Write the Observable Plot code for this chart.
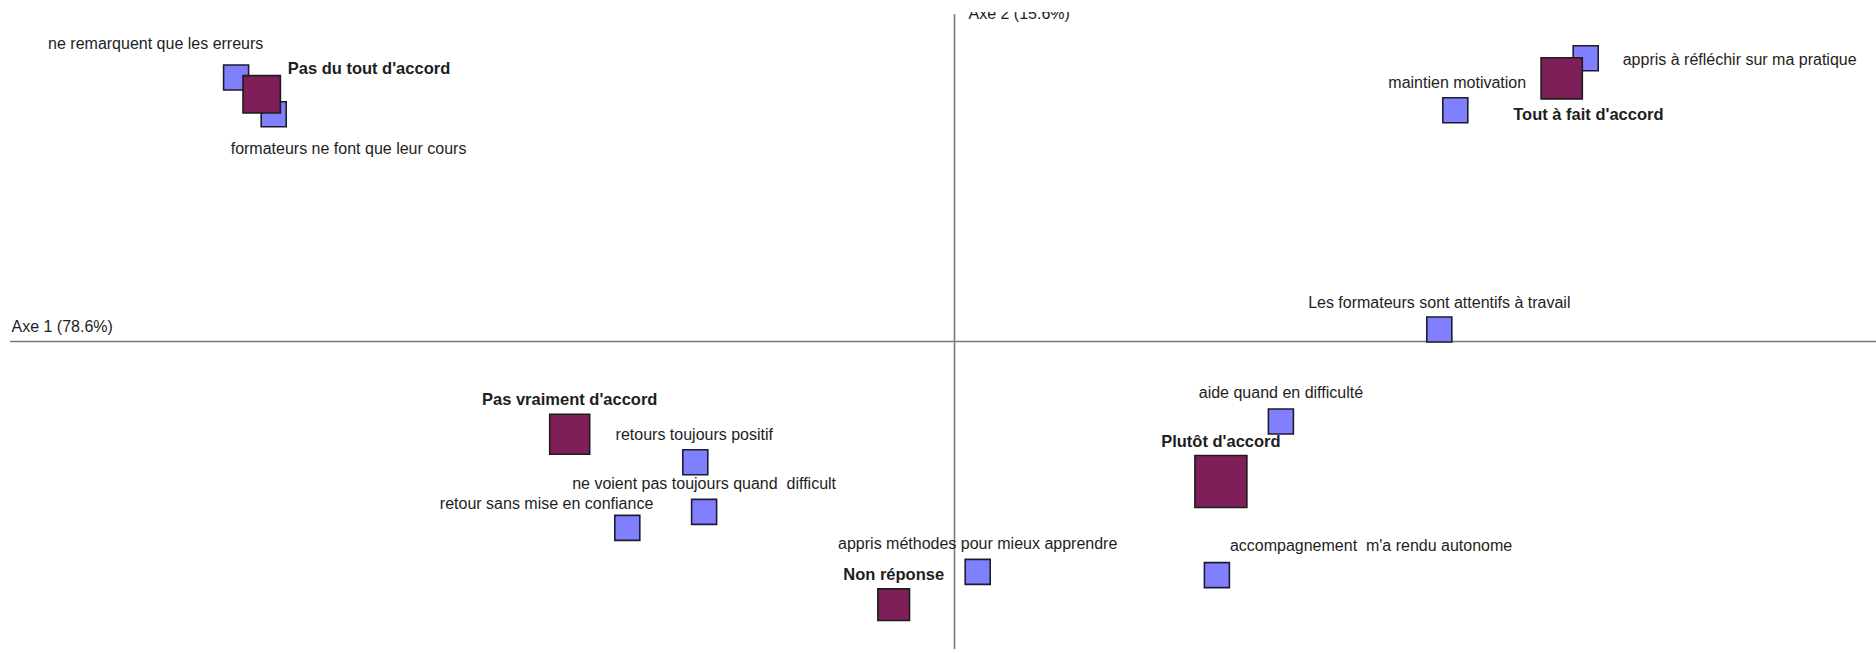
<!DOCTYPE html>
<html>
<head>
<meta charset="utf-8">
<script src="https://cdn.jsdelivr.net/npm/d3@7"></script>
<script src="https://cdn.jsdelivr.net/npm/@observablehq/plot@0.6"></script>
<style>
  html, body { margin: 0; padding: 0; background: #fff; overflow: hidden; }
  #chart { padding-top: 12px; }
  #chart svg text { white-space: pre; }
</style>
</head>
<body>
<div id="chart"></div>
<script>
// ---- Data (factor coordinates) ----
const itemNames = [
  "ne remarquent que les erreurs",
  "formateurs ne font que leur cours",
  "appris à réfléchir sur ma pratique",
  "maintien motivation",
  "Les formateurs sont attentifs à travail",
  "aide quand en difficulté",
  "retours toujours positif",
  "ne voient pas toujours quand  difficult",
  "retour sans mise en confiance",
  "appris méthodes pour mieux apprendre",
  "accompagnement  m'a rendu autonome"
];
const itemAxis1 = [-0.898, -0.851, 0.789, 0.626, 0.606, 0.408, -0.324, -0.313, -0.409, 0.029, 0.328];
const itemAxis2 = [0.330, 0.284, 0.354, 0.289, 0.015, -0.100, -0.151, -0.213, -0.233, -0.288, -0.292];

const modNames = [
  "Pas du tout d'accord",
  "Tout à fait d'accord",
  "Pas vraiment d'accord",
  "Plutôt d'accord",
  "Non réponse"
];
const modAxis1 = [-0.866, 0.759, -0.481, 0.333, -0.076];
const modAxis2 = [0.309, 0.329, -0.116, -0.175, -0.329];
const modWeight = [14, 17, 16, 27, 10];

const axisTitles = ["Axe 1 (78.6%)", "Axe 2 (15.6%)"];

// ---- Label layout: [textAnchor, dx, dy] in pixels from the point centre ----
const itemLabelLayout = [
  ["start", -188, -29],
  ["start", -43, 40],
  ["start", 37, 7],
  ["start", -67, -22],
  ["middle", 0, -22],
  ["middle", 0, -24],
  ["middle", -1, -22],
  ["middle", 0, -23],
  ["end", 26, -19],
  ["middle", 0, -23],
  ["start", 13, -24.5]
];
const modLabelLayout = [
  ["start", 26, -20],
  ["start", -48.5, 41.5],
  ["middle", 0, -29],
  ["middle", 0, -35],
  ["middle", 0, -25]
];

const items = itemNames.map((name, i) => ({name, a1: itemAxis1[i], a2: itemAxis2[i]}));
const mods = modNames.map((name, i) => ({name, a1: modAxis1[i], a2: modAxis2[i], w: modWeight[i]}));

const xDomain = [-1.18, 1.1525];
const yDomain = [-0.385, 0.40875];

const labelMarks = [
  ...items.map((d, i) => Plot.text([d], {
    x: "a1", y: "a2", text: "name",
    textAnchor: itemLabelLayout[i][0], dx: itemLabelLayout[i][1], dy: itemLabelLayout[i][2],
    lineAnchor: "bottom", fontSize: 16, fill: "#1e1e1e"
  })),
  ...mods.map((d, i) => Plot.text([d], {
    x: "a1", y: "a2", text: "name",
    textAnchor: modLabelLayout[i][0], dx: modLabelLayout[i][1], dy: modLabelLayout[i][2],
    lineAnchor: "bottom", fontSize: 16.5, fontWeight: "bold", fill: "#1e1e1e"
  }))
];

const chart = Plot.plot({
  width: 1876,
  height: 641,
  marginLeft: 10,
  marginRight: 0,
  marginTop: 2,
  marginBottom: 4,
  style: {fontFamily: "'Liberation Sans', Arial, sans-serif", fontSize: "16px", background: "#fff"},
  x: {domain: xDomain, axis: null},
  y: {domain: yDomain, axis: null},
  r: {type: "sqrt", domain: [0, 27], range: [0, 29.3]},
  marks: [
    Plot.ruleY([0], {stroke: "#7a7a7a", strokeWidth: 1.6}),
    Plot.ruleX([0], {stroke: "#7a7a7a", strokeWidth: 1.6}),
    Plot.text([{t: axisTitles[0], a1: xDomain[0], a2: 0}], {
      x: "a1", y: "a2", text: "t", textAnchor: "start", lineAnchor: "bottom",
      dx: 1, dy: -10, fontSize: 16, fill: "#1e1e1e"
    }),
    Plot.text([{t: axisTitles[1], a1: 0, a2: yDomain[1]}], {
      x: "a1", y: "a2", text: "t", textAnchor: "start", lineAnchor: "bottom",
      dx: 14, dy: 4.5, fontSize: 16, fill: "#1e1e1e"
    }),
    Plot.dot(items, {
      x: "a1", y: "a2", symbol: "square", r: 14.1,
      fill: "#8080ff", stroke: "#1c1c2c", strokeWidth: 1.6
    }),
    Plot.dot(mods, {
      x: "a1", y: "a2", symbol: "square", r: "w",
      fill: "#7f1f5a", stroke: "#1c1c1c", strokeWidth: 1.6
    }),
    ...labelMarks
  ]
});

document.getElementById("chart").appendChild(chart);
</script>
</body>
</html>
